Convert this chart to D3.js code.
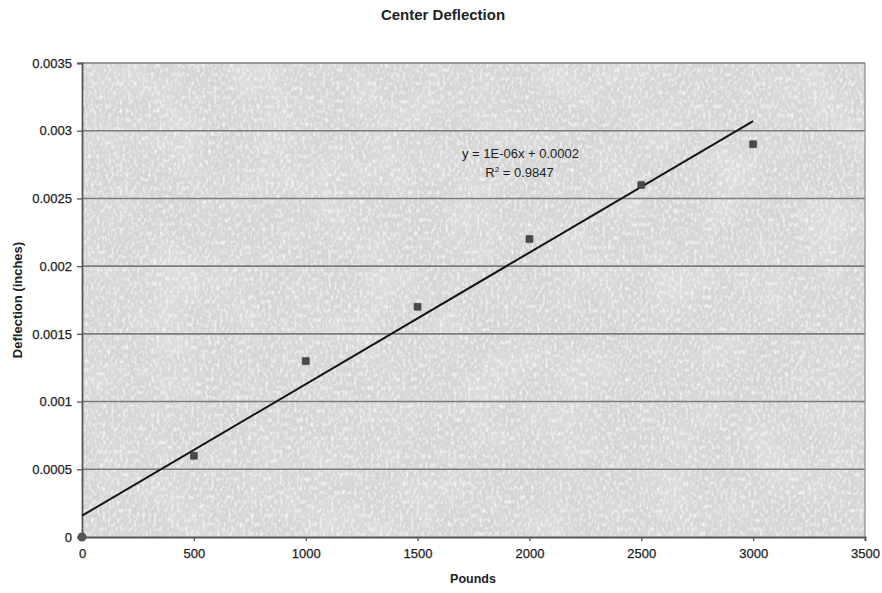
<!DOCTYPE html>
<html>
<head>
<meta charset="utf-8">
<script src="https://cdn.jsdelivr.net/npm/d3@7"></script>
<style>
  html, body { margin: 0; padding: 0; background: #ffffff; }
  svg { display: block; }
  text { font-family: "Liberation Sans", Arial, sans-serif; fill: #222; }
</style>
</head>
<body>
<svg id="chart" width="882" height="593"></svg>
<script>
// Load test data: applied load (pounds) and measured center deflection (inches)
const pounds = [0, 500, 1000, 1500, 2000, 2500, 3000];
const deflection = [0, 0.0006, 0.0013, 0.0017, 0.0022, 0.0026, 0.0029];
const xTicks = [0, 500, 1000, 1500, 2000, 2500, 3000, 3500];
const yTicks = [0, 0.0005, 0.001, 0.0015, 0.002, 0.0025, 0.003, 0.0035];
const yTickLabels = ["0", "0.0005", "0.001", "0.0015", "0.002", "0.0025", "0.003", "0.0035"];
const titleText = "Center Deflection";
const xTitle = "Pounds";
const yTitle = "Deflection (inches)";

const svg = d3.select("#chart");
const margin = { left: 82, top: 63, right: 17, bottom: 56 };
const W = 882, H = 593;
const pw = W - margin.left - margin.right;
const ph = H - margin.top - margin.bottom;

const x = d3.scaleLinear().domain([0, 3500]).range([margin.left, margin.left + pw]);
const y = d3.scaleLinear().domain([0, 0.0035]).range([margin.top + ph, margin.top]);

// Grainy paper texture for the plot background
const defs = svg.append("defs");
const grain = defs.append("filter").attr("id", "grain")
  .attr("x", 0).attr("y", 0).attr("width", 1).attr("height", 1);
grain.append("feTurbulence").attr("type", "fractalNoise")
  .attr("baseFrequency", "0.35 0.22").attr("numOctaves", 2).attr("seed", 7).attr("result", "noise");
grain.append("feColorMatrix").attr("in", "noise").attr("type", "matrix")
  .attr("values", "0 0 0 0 0.93  0 0 0 0 0.93  0 0 0 0 0.93  0 0 0 -2.4 1.3").attr("result", "specks");
grain.append("feComposite").attr("in", "specks").attr("in2", "SourceGraphic").attr("operator", "in");

const mottle = defs.append("filter").attr("id", "mottle")
  .attr("x", 0).attr("y", 0).attr("width", 1).attr("height", 1);
mottle.append("feTurbulence").attr("type", "fractalNoise")
  .attr("baseFrequency", "0.02").attr("numOctaves", 2).attr("seed", 3).attr("result", "n");
mottle.append("feColorMatrix").attr("in", "n").attr("type", "matrix")
  .attr("values", "0 0 0 0 0.74  0 0 0 0 0.74  0 0 0 0 0.74  0 0 0 -1.6 0.95").attr("result", "m");
mottle.append("feComposite").attr("in", "m").attr("in2", "SourceGraphic").attr("operator", "in");

svg.append("rect")
  .attr("x", margin.left).attr("y", margin.top).attr("width", pw).attr("height", ph)
  .attr("fill", "#d5d5d5");
svg.append("rect")
  .attr("x", margin.left).attr("y", margin.top).attr("width", pw).attr("height", ph)
  .attr("fill", "#000").attr("filter", "url(#mottle)");
svg.append("rect")
  .attr("x", margin.left).attr("y", margin.top).attr("width", pw).attr("height", ph)
  .attr("fill", "#000").attr("filter", "url(#grain)");

// Horizontal gridlines
svg.append("g").selectAll("line").data(yTicks.slice(1)).join("line")
  .attr("x1", margin.left).attr("x2", margin.left + pw)
  .attr("y1", d => y(d)).attr("y2", d => y(d))
  .attr("stroke", "#7c7c7c").attr("stroke-width", 1.6);

// Plot border (right side)
svg.append("line")
  .attr("x1", margin.left + pw).attr("x2", margin.left + pw)
  .attr("y1", margin.top).attr("y2", margin.top + ph)
  .attr("stroke", "#8a8a8a").attr("stroke-width", 1.2);

// Axes
const xAxis = d3.axisBottom(x).tickValues(xTicks).tickSize(4).tickPadding(8).tickFormat(d3.format("d"));
const yAxis = d3.axisLeft(y).tickValues(yTicks).tickSize(5).tickPadding(5)
  .tickFormat((d, i) => yTickLabels[i]);

const gx = svg.append("g").attr("transform", `translate(0,${margin.top + ph})`).call(xAxis);
const gy = svg.append("g").attr("transform", `translate(${margin.left},0)`).call(yAxis);
[gx, gy].forEach(g => {
  g.select(".domain").attr("stroke", "#555").attr("stroke-width", 1.8);
  g.selectAll(".tick line").attr("stroke", "#555").attr("stroke-width", 1.3);
  g.selectAll(".tick text").attr("fill", "#222")
    .attr("stroke", "#222").attr("stroke-width", 0.25)
    .style("font-family", '"Liberation Sans", Arial, sans-serif').style("font-size", "13px");
});

// Least-squares linear trendline
const n = pounds.length;
const mx = d3.mean(pounds), my = d3.mean(deflection);
let sxy = 0, sxx = 0, syy = 0;
for (let i = 0; i < n; i++) {
  sxy += (pounds[i] - mx) * (deflection[i] - my);
  sxx += (pounds[i] - mx) ** 2;
  syy += (deflection[i] - my) ** 2;
}
const slope = sxy / sxx;
const intercept = my - slope * mx;
const r2 = (sxy * sxy) / (sxx * syy);

// Spreadsheet-style scientific notation, e.g. 1E-06
function sci(v) {
  const [m, e] = v.toExponential(0).split("e");
  const ev = parseInt(e, 10);
  const sign = ev < 0 ? "-" : "+";
  return `${m}E${sign}${String(Math.abs(ev)).padStart(2, "0")}`;
}

const trendX = [d3.min(pounds), d3.max(pounds)];
svg.append("path")
  .datum(trendX)
  .attr("d", d3.line().x(d => x(d)).y(d => y(intercept + slope * d)))
  .attr("stroke", "#151515").attr("stroke-width", 2).attr("fill", "none");

// Data markers (the one at the origin sits on the axis corner and reads as a dot)
const points = pounds.map((p, i) => [p, deflection[i]]);
const msize = 7;
svg.append("g").selectAll("rect").data(points.filter(d => d[0] > 0)).join("rect")
  .attr("x", d => x(d[0]) - msize / 2).attr("y", d => y(d[1]) - msize / 2)
  .attr("width", msize).attr("height", msize).attr("rx", 0.5)
  .attr("fill", "#4a4a4a").attr("stroke", "#3a3a3a").attr("stroke-width", 0.6);
svg.append("g").selectAll("circle").data(points.filter(d => d[0] === 0)).join("circle")
  .attr("cx", d => x(d[0])).attr("cy", d => y(d[1])).attr("r", 4.5)
  .attr("fill", "#555");

// Trendline equation and R-squared
const eqX = x(1960), eqY = y(0.00283) + 4;
svg.append("text").attr("x", eqX).attr("y", eqY).attr("text-anchor", "middle")
  .style("font-size", "13px")
  .text(`y = ${sci(slope)}x + ${intercept.toFixed(4)}`);
const r2Text = svg.append("text").attr("x", eqX - 1).attr("y", eqY + 19).attr("text-anchor", "middle")
  .style("font-size", "13px");
r2Text.append("tspan").text("R");
r2Text.append("tspan").attr("dy", -5).style("font-size", "8px").text("2");
r2Text.append("tspan").attr("dy", 5).text(` = ${r2.toFixed(4)}`);

// Titles
svg.append("text").attr("x", 443).attr("y", 20).attr("text-anchor", "middle")
  .style("font-size", "15px").style("font-weight", "bold").text(titleText);
svg.append("text").attr("x", 473).attr("y", 583).attr("text-anchor", "middle")
  .style("font-size", "12.5px").style("font-weight", "bold").text(xTitle);
svg.append("text").attr("transform", `translate(22,${(margin.top + margin.top + ph) / 2}) rotate(-90)`)
  .attr("text-anchor", "middle")
  .style("font-size", "13px").style("font-weight", "bold").text(yTitle);
</script>
</body>
</html>
